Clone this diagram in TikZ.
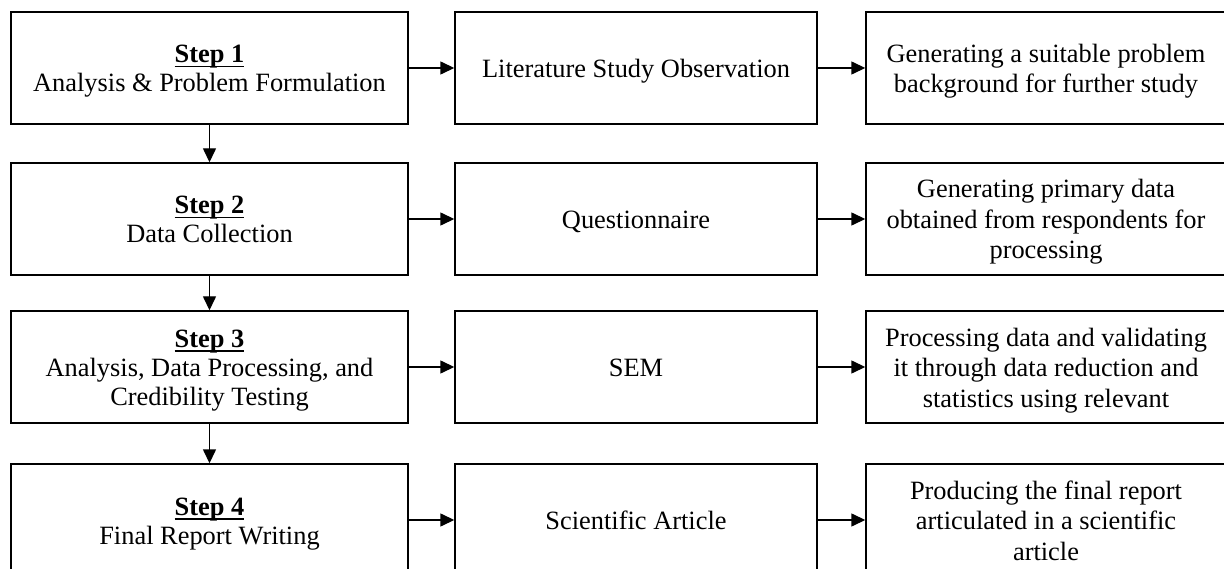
\documentclass[tikz,border=0pt]{standalone}
\usepackage{fontspec}
\setmainfont{Liberation Serif}
\usetikzlibrary{arrows.meta}
\newcommand\topstrut{\rule{0pt}{26pt}}
\newcommand\botstrut{\rule[-7pt]{0pt}{7pt}}
\newcommand\ulstep[1]{\setbox0\hbox{\textbf{#1}}\rlap{\rule[-4.5pt]{\wd0}{1.6pt}}\box0}
\begin{document}
\begin{tikzpicture}[x=1pt,y=-1pt,
  box/.style={draw, line width=1.4pt, inner sep=0pt, align=center,
    minimum height=112pt, font=\fontsize{26.4}{29}\selectfont},
  stepbox/.style={box, minimum width=397pt},
  midbox/.style={box, minimum width=362pt},
  outbox/.style={box, minimum width=360pt, font=\fontsize{26.4}{30.5}\selectfont},
  conn/.style={line width=1.4pt, -{Triangle[length=14pt,width=13pt]}}]
\useasboundingbox (0,0) rectangle (1224,569);
\clip (0,0) rectangle (1224,569);

\node[stepbox] (s1) at (209.5,68) {\topstrut\ulstep{Step 1}\\Analysis \& Problem Formulation\botstrut};
\node[stepbox] (s2) at (209.5,219) {\topstrut\ulstep{Step 2}\\Data Collection\botstrut};
\node[stepbox] (s3) at (209.5,367) {\topstrut\ulstep{Step 3}\\Analysis, Data Processing, and\\Credibility Testing\botstrut};
\node[stepbox] (s4) at (209.5,520) {\topstrut\ulstep{Step 4}\\Final Report Writing\botstrut};

\node[midbox] (m1) at (636,68) {\topstrut Literature Study Observation\botstrut};
\node[midbox] (m2) at (636,219) {\topstrut Questionnaire\botstrut};
\node[midbox] (m3) at (636,367) {\topstrut SEM\botstrut};
\node[midbox] (m4) at (636,520) {\topstrut Scientific Article\botstrut};

\node[outbox] (o1) at (1046,68) {\topstrut Generating a suitable problem\\background for further study\botstrut};
\node[outbox] (o2) at (1046,219) {\topstrut Generating primary data\\obtained from respondents for\\processing\botstrut};
\node[outbox] (o3) at (1046,367) {\topstrut Processing data and validating\\it through data reduction and\\statistics using relevant\botstrut};
\node[outbox] (o4) at (1046,520) {\topstrut Producing the final report\\articulated in a scientific\\article\botstrut};

\foreach \i in {1,2,3,4}{
  \draw[conn] (s\i) -- (m\i);
  \draw[conn] (m\i) -- (o\i);
}
\draw[conn] (s1) -- (s2);
\draw[conn] (s2) -- (s3);
\draw[conn] (s3) -- (s4);
\end{tikzpicture}
\end{document}
